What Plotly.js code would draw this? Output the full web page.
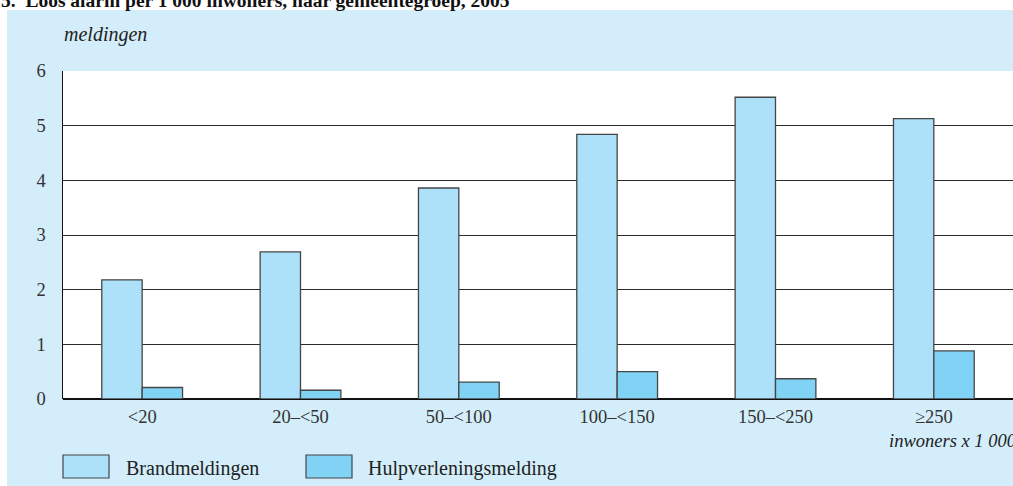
<!DOCTYPE html>
<html>
<head>
<meta charset="utf-8">
<script src="https://cdn.plot.ly/plotly-3.0.1.min.js"></script>
<style>html,body{margin:0;padding:0;background:#fff;}#chart{width:1013px;height:486px;}</style>
</head>
<body>
<div id="chart"></div>
<script>
// Data
const categories = ["<20", "20\u2013<50", "50\u2013<100", "100\u2013<150", "150\u2013<250", "\u2265250"];
const brandmeldingen = [2.18, 2.69, 3.86, 4.84, 5.52, 5.13];
const hulpverlening = [0.21, 0.16, 0.31, 0.50, 0.37, 0.88];
const seriesNames = ["Brandmeldingen", "Hulpverleningsmelding"];
const yTicks = [0, 1, 2, 3, 4, 5, 6];
const titleText = "5.&nbsp;&nbsp;Loos alarm per 1 000 inwoners, naar gemeentegroep, 2005";
const yUnit = "meldingen";
const xUnit = "inwoners x 1 000";

const W = 1013, H = 486, L = 63, R = 0, T = 71, B = 87;
const pw = W - L - R, ph = H - T - B;
const px = x => (x - L) / pw;
const py = y => (H - B - y) / ph;

const serif = "Liberation Serif, DejaVu Serif, serif";
const colors = ["#ace1f9", "#80d3f5"];

const traces = [
  {type: "bar", x: categories, y: brandmeldingen, name: seriesNames[0],
   marker: {color: colors[0], line: {color: "#454545", width: 1.3}}},
  {type: "bar", x: categories, y: hulpverlening, name: seriesNames[1],
   marker: {color: colors[1], line: {color: "#454545", width: 1.3}}}
];

const shapes = [
  {type: "rect", xref: "paper", yref: "paper", x0: px(7), x1: px(1013), y0: py(486), y1: py(10),
   fillcolor: "#d3eefa", line: {width: 0}, layer: "below"},
  {type: "rect", xref: "paper", yref: "paper", x0: 0, x1: 1, y0: 0, y1: 1,
   fillcolor: "#ffffff", line: {width: 0}, layer: "below"},
  {type: "rect", xref: "paper", yref: "paper", x0: px(63), x1: px(109), y0: py(478), y1: py(455),
   fillcolor: colors[0], line: {color: "#454545", width: 1.2}},
  {type: "rect", xref: "paper", yref: "paper", x0: px(306), x1: px(352), y0: py(478), y1: py(455),
   fillcolor: colors[1], line: {color: "#454545", width: 1.2}}
];

const annotations = [
  {xref: "paper", yref: "paper", x: px(-1), y: py(13), xanchor: "left", yanchor: "bottom",
   text: "<b>" + titleText + "</b>", showarrow: false, font: {family: serif, size: 19.5, color: "#111"}},
  {xref: "paper", yref: "paper", x: px(62), y: py(35), xanchor: "left", yanchor: "middle",
   text: "<i>" + yUnit + "</i>", showarrow: false, font: {family: serif, size: 20, color: "#222"}},
  {xref: "paper", yref: "paper", x: px(887), y: py(441), xanchor: "left", yanchor: "middle",
   text: "<i>" + xUnit + "</i>", showarrow: false, font: {family: serif, size: 18.5, color: "#222"}},
  {xref: "paper", yref: "paper", x: px(124), y: py(468), xanchor: "left", yanchor: "middle",
   text: seriesNames[0], showarrow: false, font: {family: serif, size: 20, color: "#222"}},
  {xref: "paper", yref: "paper", x: px(366), y: py(468), xanchor: "left", yanchor: "middle",
   text: seriesNames[1], showarrow: false, font: {family: serif, size: 20, color: "#222"}}
];

const layout = {
  width: W, height: H,
  margin: {l: L, r: R, t: T, b: B, pad: 0},
  paper_bgcolor: "#ffffff",
  plot_bgcolor: "rgba(0,0,0,0)",
  showlegend: false,
  barmode: "group",
  bargap: 0.49,
  bargroupgap: 0,
  font: {family: serif, size: 18.5, color: "#333"},
  xaxis: {
    type: "category", showgrid: false, ticks: "", showline: false, zeroline: false,
    tickfont: {family: serif, size: 18.5, color: "#333"}, ticklabelstandoff: 4
  },
  yaxis: {
    range: [0, 6], tickvals: yTicks, ticktext: yTicks.map(String),
    showgrid: true, gridcolor: "#2a2a2a", gridwidth: 1,
    showline: true, linecolor: "#111", linewidth: 1.5,
    zeroline: true, zerolinecolor: "#111", zerolinewidth: 2.5,
    ticks: "", ticklabelstandoff: 12,
    tickfont: {family: serif, size: 18.5, color: "#333"}
  },
  shapes: shapes,
  annotations: annotations
};

Plotly.newPlot("chart", traces, layout, {displayModeBar: false, staticPlot: true});
</script>
</body>
</html>
